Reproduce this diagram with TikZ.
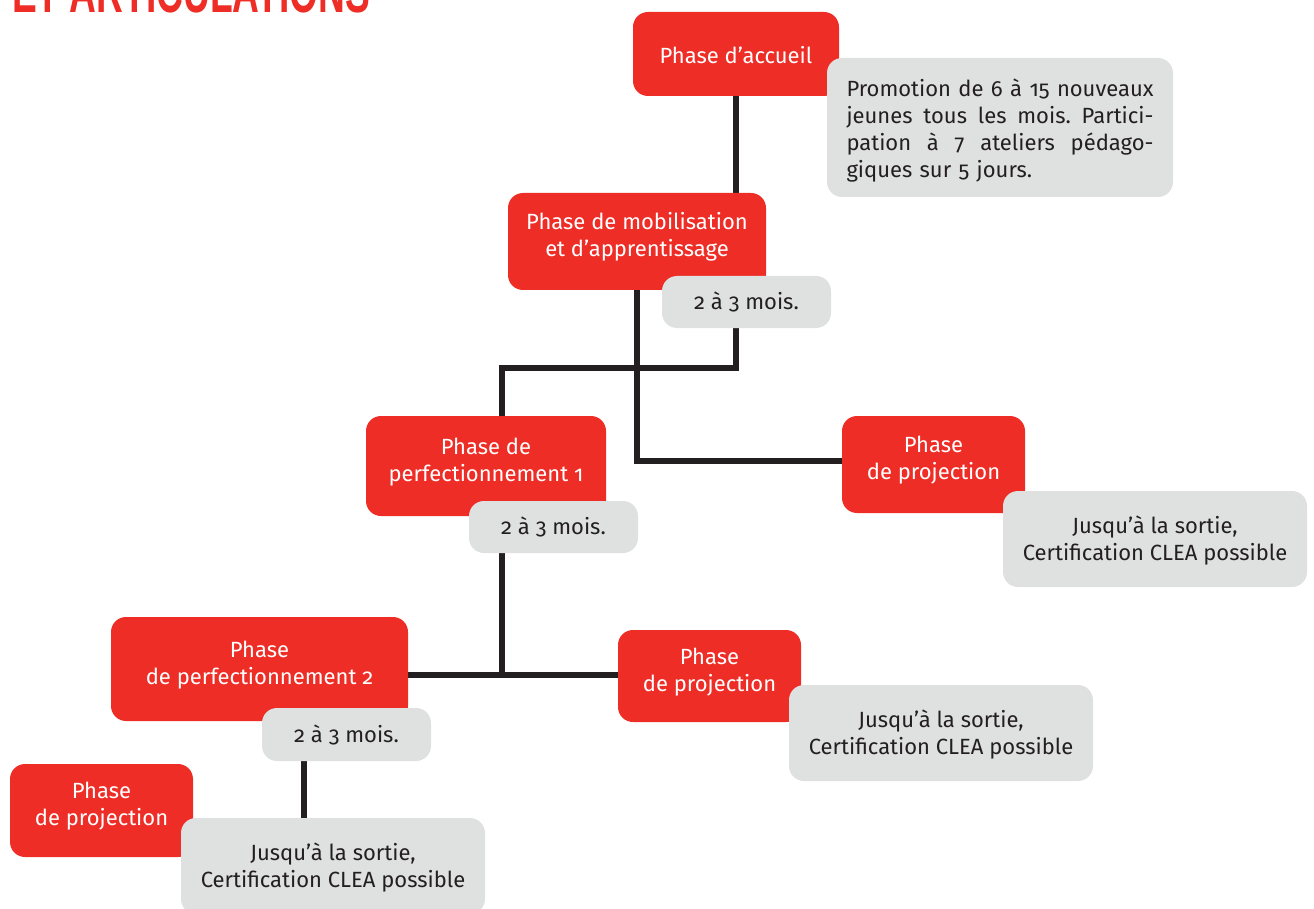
\documentclass[tikz,border=0pt]{standalone}
\usepackage{fontspec}
\setmainfont[Numbers=OldStyle]{Fira Sans}
\newfontfamily\titrefont{Liberation Sans}
\usepackage{graphicx}
\usetikzlibrary{backgrounds}
\frenchspacing

\definecolor{rougephase}{HTML}{EE2D27}
\definecolor{grisnote}{HTML}{DFE0E0}
\definecolor{traitnoir}{HTML}{231F20}

\tikzset{
    phase/.style={
        rectangle,
        rounded corners=15pt,
        fill=rougephase,
        text=white,
        align=center,
        inner sep=0pt,
        text height=44pt,
        text depth=14pt,   % <-- texte un peu plus haut que le centre
        font=\fontsize{22}{27}\selectfont
    },
    note/.style={
        rectangle,
        rounded corners=15pt,
        fill=grisnote,
        text=traitnoir,
        align=center,
        inner sep=0pt,
        font=\fontsize{22}{27}\selectfont
    },
    duree/.style={note, minimum width=169pt, minimum height=52pt},
    sortie/.style={note, minimum width=304pt, minimum height=96pt, text height=48pt, text depth=5pt},
    lien/.style={draw=traitnoir, line width=6pt}
}

\begin{document}
\begin{tikzpicture}[x=1pt, y=-1pt]
    \useasboundingbox (0,0) rectangle (1314,909);
    \clip (0,0) rectangle (1314,909);

    % titre coupe en haut
    \node[anchor=base west, inner sep=0pt, text=rougephase] (titre) at (12,13)
        {\resizebox{358pt}{42pt}{\titrefont\bfseries ET ARTICULATIONS}};

    % phases
    \node[phase, minimum width=206pt, minimum height=84pt, text height=20pt, text depth=0pt] (accueil) at (736,54) {Phase d’accueil};
    \node[phase, minimum width=258pt, minimum height=97pt] (mobilisation) at (637,241.5) {Phase de mobilisation\\et d’apprentissage};
    \node[phase, minimum width=240pt, minimum height=100pt] (perfA) at (486,466) {Phase de\\perfectionnement 1};
    \node[phase, minimum width=183pt, minimum height=97pt] (projA) at (933.5,464.5) {Phase\\de projection};
    \node[phase, minimum width=297pt, minimum height=104pt] (perfB) at (259.5,669) {Phase\\de perfectionnement 2};
    \node[phase, minimum width=183pt, minimum height=92pt] (projB) at (709.5,676) {Phase\\de projection};
    \node[phase, minimum width=183pt, minimum height=93pt] (projC) at (101.5,810.5) {Phase\\de projection};

    % notes grises
    \node[
        note,
        minimum width=346pt,
        minimum height=139pt,
        text width=307pt,
        text height=16pt,
        text depth=77pt,
        align=left   % <-- lignes justifiees a la main
    ] (promotion) at (1000,127.5) {
        \makebox[307pt][l]{Promotion\hfill de\hfill 6\hfill à\hfill 15\hfill nouveaux}\\
        \makebox[307pt][l]{jeunes\hfill tous\hfill les\hfill mois.\hfill Partici-}\\
        \makebox[307pt][l]{pation\hfill à\hfill 7\hfill ateliers\hfill pédago-}\\
        giques sur 5 jours.
    };
    \node[duree] (dureeA) at (746.5,302) {2 à 3 mois.};
    \node[duree] (dureeB) at (553.5,527) {2 à 3 mois.};
    \node[duree, minimum height=53pt] (dureeC) at (346.5,734.5) {2 à 3 mois.};
    \node[sortie] (sortieA) at (1155,539) {Jusqu’à la sortie,\\Certification CLEA possible};
    \node[sortie] (sortieB) at (941,733) {Jusqu’à la sortie,\\Certification CLEA possible};
    \node[sortie] (sortieC) at (333,866) {Jusqu’à la sortie,\\Certification CLEA possible};

    % traits de liaison
    \coordinate (coudeA) at (502,368);
    \coordinate (jonction) at (502,675);
    \coordinate (coudeC) at (304,790);
    \begin{scope}[on background layer]
        \draw[lien] (accueil.south) -- (accueil.south |- mobilisation.north);
        \draw[lien] (mobilisation.south) |- ([yshift=3.5pt]projA.west);
        \draw[lien] (accueil.south |- dureeA.south) |- (coudeA) -- (coudeA |- perfA.north);
        \draw[lien] (jonction |- dureeB.south) -- (jonction);
        \draw[lien] (perfB.east |- jonction) -- (projB.west |- jonction);
        \draw[lien] (coudeC |- dureeC.south) -- (coudeC |- sortieC.north);
    \end{scope}
\end{tikzpicture}
\end{document}
